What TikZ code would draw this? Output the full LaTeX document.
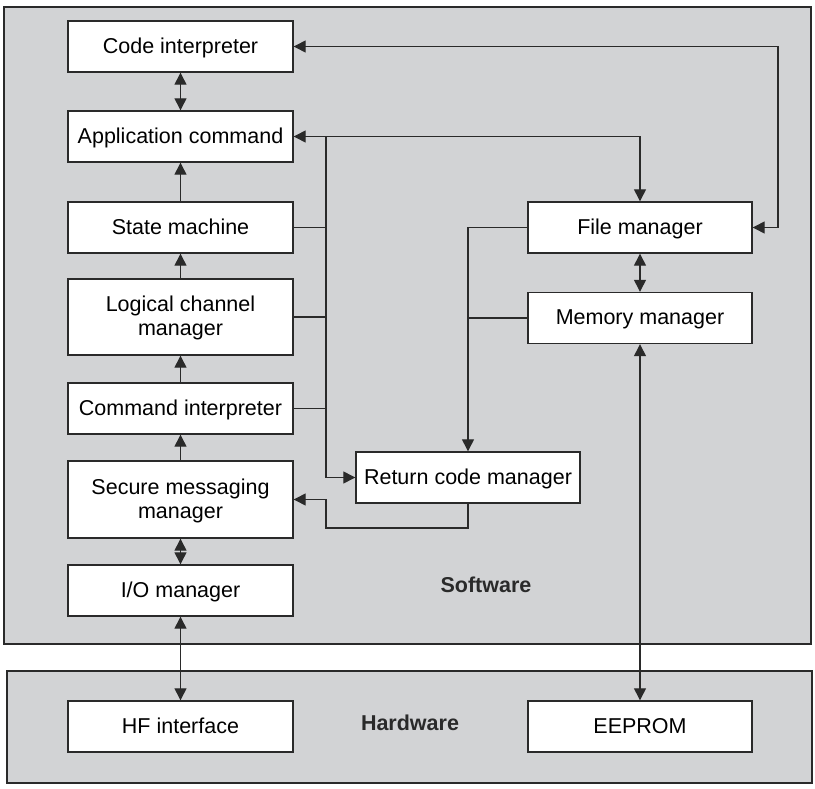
\documentclass[tikz,border=0pt]{standalone}
\usepackage{fontspec}
\setmainfont{Liberation Sans}
\usetikzlibrary{arrows.meta,positioning}
\definecolor{ink}{HTML}{2A2A2A}
\definecolor{panel}{HTML}{D2D3D5}

\begin{document}
\begin{tikzpicture}[x=1pt,y=-1pt,>={Triangle[length=12pt,width=12pt]},
  block/.style={draw=ink,fill=white,line width=1.4pt,minimum width=225pt,minimum height=51pt,
    align=center,font=\fontsize{21.5}{24}\selectfont,inner sep=2pt,text depth=2pt},
  wire/.style={draw=ink,line width=1.3pt},
  layer/.style={draw=ink,fill=panel,line width=1.4pt},
  tag/.style={font=\fontsize{21.5}{24}\selectfont\bfseries,text=ink}]
\useasboundingbox (0,0) rectangle (815,789);
% the two layers
\path[layer] (4,7) rectangle (811,644);
\path[layer] (7,671) rectangle (812,783);
\node[tag] (sw) at (486,585) {Software};
\node[tag] (hw) at (410,723) {Hardware};
% left column
\node[block] (code) at (180.5,46.5) {Code interpreter};
\node[block] (app) at (180.5,136.5) {Application command};
\node[block] (state) at (180.5,227.5) {State machine};
\node[block,minimum height=76pt] (logic) at (180.5,317) {Logical channel\\manager};
\node[block] (cmd) at (180.5,408.5) {Command interpreter};
\node[block,minimum height=77pt] (sec) at (180.5,499.5) {Secure messaging\\manager};
\node[block] (io) at (180.5,590.5) {I/O manager};
\node[block] (hf) at (180.5,726.5) {HF interface};
% right side
\node[block,minimum width=224pt] (file) at (640,227.5) {File manager};
\node[block,minimum width=224pt] (mem) at (640,318) {Memory manager};
\node[block,minimum width=224pt] (ret) at (468,477.5) {Return code manager};
\node[block,minimum width=224pt] (eeprom) at (640,726.5) {EEPROM};
\coordinate (lbus) at (326,0);
\coordinate (rbus) at (778,0);
\coordinate (back) at (326,528);
% vertical chain
\draw[wire,<->] (code) -- (app);
\draw[wire,->] (state) -- (app);
\draw[wire,->] (logic) -- (state);
\draw[wire,->] (cmd) -- (logic);
\draw[wire,->] (sec) -- (cmd);
\draw[wire,<->] (sec) -- (io);
\draw[wire,<->] (io) -- (hf);
\draw[wire,<->] (file) -- (mem);
\draw[wire,<->] (mem) -- (eeprom);
% long links
\draw[wire,<->] (code.east) -- (code.east -| rbus) |- (file.east);
\draw[wire,<->] (app.east) -| (file.north);
\draw[wire,->] (app.east -| lbus) |- (ret.west);
\draw[wire] (state.east) -- (state.east -| lbus);
\draw[wire] (logic.east) -- (logic.east -| lbus);
\draw[wire] (cmd.east) -- (cmd.east -| lbus);
\draw[wire,->] (file.west) -| (ret.north);
\draw[wire] (mem.west) -- (mem.west -| ret.north);
\draw[wire,->] (ret.south) |- (back) |- (sec.east);
\end{tikzpicture}
\end{document}
